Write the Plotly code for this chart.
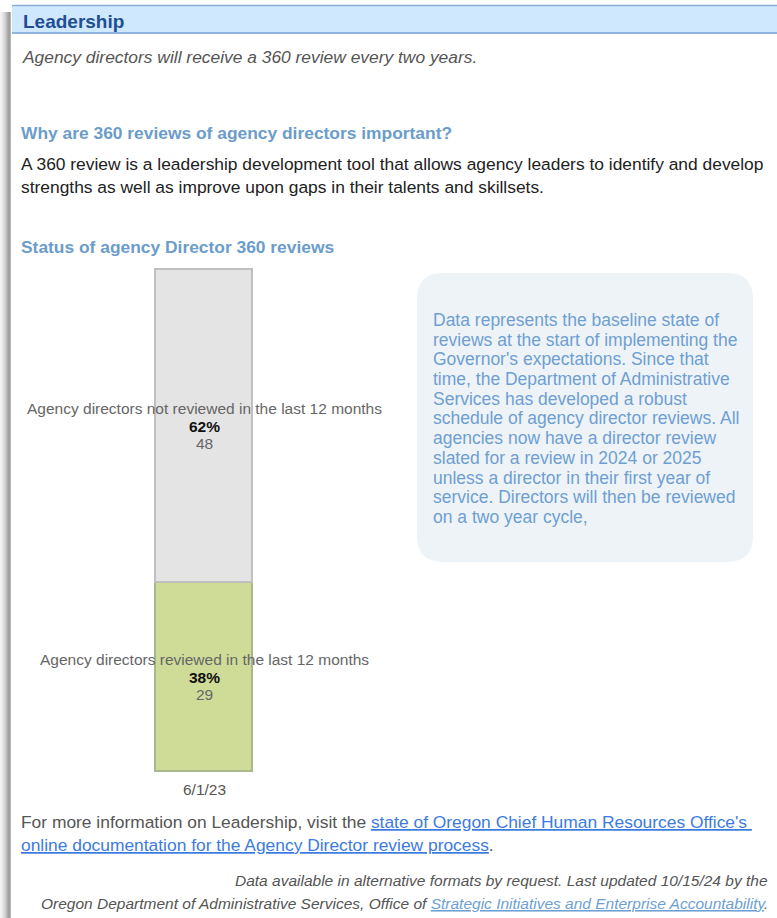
import plotly.graph_objects as go

W, H = 777, 918

# ---- data ----
date_label = ["6/1/23"]
categories = ["Agency directors reviewed in the last 12 months",
              "Agency directors not reviewed in the last 12 months"]
counts = [29, 48]
bar_colors = ["#cfdc98", "#e4e4e4"]
bar_edges = ["#a8b78c", "#c0c0c0"]

info_lines = [
    "Data represents the baseline state of",
    "reviews at the start of implementing the",
    "Governor's expectations. Since that",
    "time, the Department of Administrative",
    "Services has developed a robust",
    "schedule of agency director reviews. All",
    "agencies now have a director review",
    "slated for a review in 2024 or 2025",
    "unless a director in their first year of",
    "service. Directors will then be reviewed",
    "on a two year cycle,",
]

FONT = "Liberation Sans, Arial, sans-serif"
BODY = 17.4
SMALL = 15.5


def px(x):
    return x / W


def py(y):
    return 1 - y / H


fig = go.Figure()
total = sum(counts)
for cat, val, col, edge in zip(categories, counts, bar_colors, bar_edges):
    fig.add_trace(go.Bar(
        x=date_label, y=[val], name=cat, width=1,
        marker=dict(color=col, line=dict(color=edge, width=1.8)),
        hoverinfo="skip", showlegend=False,
    ))

annotations = []
# bar labels from data
cum = 0
for cat, val in zip(categories, counts):
    mid = cum + val / 2
    cum += val
    pct = round(val / total * 100)
    for text, shift, color in [(cat, 18, "#666666"),
                               (f"<b>{pct}%</b>", 0, "#111111"),
                               (str(val), -17, "#666666")]:
        annotations.append(dict(
            x=date_label[0], y=mid, xref="x", yref="y", showarrow=False,
            xanchor="center", yanchor="middle", yshift=shift, text=text,
            font=dict(family=FONT, size=SMALL, color=color),
        ))


def txt(x, y, text, size=BODY, color="#222222", anchor="left", family=FONT):
    annotations.append(dict(
        x=px(x), y=py(y), xref="paper", yref="paper", showarrow=False,
        xanchor=anchor, yanchor="middle", text=text,
        font=dict(family=family, size=size, color=color),
    ))


txt(21, 21, "<b>Leadership</b>", size=19, color="#1f4e93")
txt(20, 57, "<i>Agency directors will receive a 360 review every two years.</i>", color="#555555")
txt(19, 133, "<b>Why are 360 reviews of agency directors important?</b>", color="#6b9cca")
txt(19, 164, "A 360 review is a leadership development tool that allows agency leaders to identify and develop", color="#222222")
txt(19, 187, "strengths as well as improve upon gaps in their talents and skillsets.", color="#222222")
txt(19, 247, "<b>Status of agency Director 360 reviews</b>", color="#6b9cca")

for i, line in enumerate(info_lines):
    txt(431, 320 + i * 19.7, line, size=17.5, color="#6f9fd1")

link = "#3c7be0"
txt(19, 822, "For more information on Leadership, visit the "
    f"<span style='color:{link}'><u>state of Oregon Chief Human Resources Office's </u></span>",
    color="#555555")
txt(19, 845, f"<span style='color:{link}'><u>online documentation for the Agency Director review process</u></span>.",
    color="#555555")
txt(770, 880, "<i>Data available in alternative formats by request. Last updated 10/15/24 by the</i>",
    size=SMALL, color="#555555", anchor="right")
txt(770, 903, "<i>Oregon Department of Administrative Services, Office of "
    "<span style='color:#6d9fd3'><u>Strategic Initiatives and Enterprise Accountability</u></span>.</i>",
    size=SMALL, color="#555555", anchor="right")

shapes = []
# left shadow
shade = ["#f4f4f4", "#efefef", "#e8e8e8", "#e0e0e0", "#d6d6d6", "#cbcbcb",
         "#bdbdbd", "#afafaf", "#a3a3a3", "#9c9c9c", "#b5b5b5"]
for i, c in enumerate(shade):
    shapes.append(dict(type="rect", xref="paper", yref="paper",
                       x0=px(i), x1=px(i + 1), y0=0, y1=py(12),
                       fillcolor=c, line=dict(width=0), layer="below"))
# header band
shapes.append(dict(type="rect", xref="paper", yref="paper",
                   x0=px(12), x1=1, y0=py(34), y1=py(5),
                   fillcolor="#cfe8fd", line=dict(width=0), layer="below"))
shapes.append(dict(type="line", xref="paper", yref="paper",
                   x0=px(12), x1=1, y0=py(5.5), y1=py(5.5),
                   line=dict(color="#86aed8", width=1.5)))
shapes.append(dict(type="line", xref="paper", yref="paper",
                   x0=px(12), x1=1, y0=py(33), y1=py(33),
                   line=dict(color="#8fb5de", width=2)))

# rounded info box
x0, x1, y0, y1, r = 417, 753, 273, 562, 26


def P(x, y):
    return f"{px(x):.5f},{py(y):.5f}"


path = (f"M {P(x0 + r, y0)} L {P(x1 - r, y0)} Q {P(x1, y0)} {P(x1, y0 + r)} "
        f"L {P(x1, y1 - r)} Q {P(x1, y1)} {P(x1 - r, y1)} "
        f"L {P(x0 + r, y1)} Q {P(x0, y1)} {P(x0, y1 - r)} "
        f"L {P(x0, y0 + r)} Q {P(x0, y0)} {P(x0 + r, y0)} Z")
shapes.append(dict(type="path", xref="paper", yref="paper", path=path,
                   fillcolor="#eef3f8", line=dict(width=0), layer="below"))

# plot area slightly larger than the bar so its outline is not clipped
bar_l, bar_r, bar_t, bar_b = 156, 253, 270, 772
pad = 3
xhalf = 0.5 * (bar_r - bar_l + 2 * pad) / (bar_r - bar_l)
ymax = total * (bar_b - (bar_t - pad)) / (bar_b - bar_t)

fig.update_layout(
    width=W, height=H, margin=dict(l=0, r=0, t=0, b=0),
    paper_bgcolor="white", plot_bgcolor="rgba(0,0,0,0)",
    barmode="stack", bargap=0,
    xaxis=dict(domain=[px(bar_l - pad), px(bar_r + pad)], type="category",
               range=[-xhalf, xhalf],
               showgrid=False, zeroline=False, showline=False, ticks="",
               ticklabelstandoff=6,
               tickfont=dict(family=FONT, size=SMALL, color="#555555"),
               fixedrange=True),
    yaxis=dict(domain=[py(bar_b), py(bar_t - pad)], range=[0, ymax], visible=False,
               fixedrange=True),
    annotations=annotations, shapes=shapes,
    font=dict(family=FONT),
)

fig.write_html("out.html")
